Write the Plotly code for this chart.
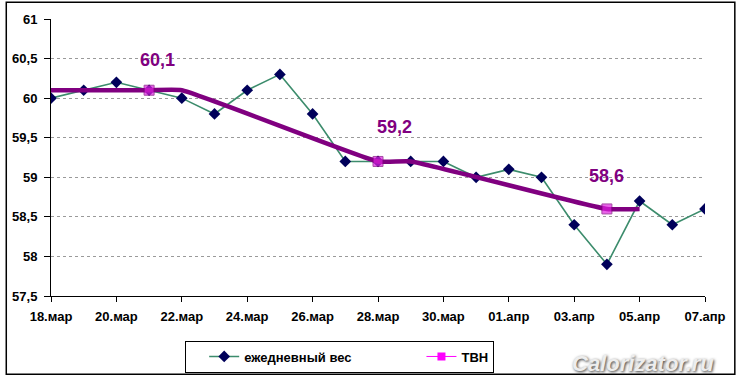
import plotly.graph_objects as go

dates = ["18.мар", "19.мар", "20.мар", "21.мар", "22.мар", "23.мар", "24.мар",
         "25.мар", "26.мар", "27.мар", "28.мар", "29.мар", "30.мар", "31.мар",
         "01.апр", "02.апр", "03.апр", "04.апр", "05.апр", "06.апр", "07.апр"]
daily_weight = [60.0, 60.1, 60.2, 60.1, 60.0, 59.8, 60.1, 60.3, 59.8, 59.2, 59.2,
                59.2, 59.2, 59.0, 59.1, 59.0, 58.4, 57.9, 58.7, 58.4, 58.6]

tvn_dates = ["18.мар", "21.мар", "22.мар", "28.мар", "29.мар", "04.апр", "05.апр"]
tvn_values = [60.1, 60.1, 60.1, 59.2, 59.2, 58.6, 58.6]
tvn_marked = [False, True, False, True, False, True, False]

label_dates = ["21.мар", "28.мар", "04.апр"]
label_values = [60.1, 59.2, 58.6]
label_texts = ["60,1", "59,2", "58,6"]

x_tick_labels = ["18.мар", "20.мар", "22.мар", "24.мар", "26.мар", "28.мар",
                 "30.мар", "01.апр", "03.апр", "05.апр", "07.апр"]
y_tick_vals = [57.5, 58, 58.5, 59, 59.5, 60, 60.5, 61]
y_tick_text = ["57,5", "58", "58,5", "59", "59,5", "60", "60,5", "61"]

FONT = "Arial, Liberation Sans, sans-serif"
NB = "\u00a0"

fig = go.Figure()

fig.add_trace(go.Scatter(
    x=dates, y=daily_weight, mode="lines+markers", name="ежедневный вес" + NB * 13,
    line=dict(color="#3C8C6C", width=1.6),
    marker=dict(symbol="diamond", color="#00005A", size=9),
))

fig.add_trace(go.Scatter(
    x=tvn_dates, y=tvn_values, mode="lines+markers", showlegend=False,
    line=dict(color="#800080", width=4.5, shape="spline", smoothing=0.4),
    marker=dict(symbol="square", color="#E020E0",
                size=[10 if m else 0 for m in tvn_marked]),
))

fig.add_trace(go.Scatter(
    x=[None], y=[None], mode="lines+markers", name="ТВН",
    line=dict(color="#FF00FF", width=1),
    marker=dict(symbol="square", color="#FF00FF", size=8),
))

shifts = [(8, 30), (16, 34), (0, 33)]
for d, v, t, (dx, dy) in zip(label_dates, label_values, label_texts, shifts):
    fig.add_annotation(x=d, y=v, text=t, showarrow=False, xshift=dx, yshift=dy,
                       font=dict(family=FONT, size=18, color="#800080", weight="bold"))

fig.add_annotation(xref="paper", yref="paper", x=(645 - 49) / 658, y=(298 - 366) / 280,
                   xanchor="center", yanchor="middle",
                   text="Calorizator.ru", showarrow=False,
                   font=dict(family=FONT, size=22, color="#ededed", weight="bold",
                             style="italic", shadow="1px 1px 3px #333"))

fig.add_shape(type="rect", xref="paper", yref="paper",
              x0=(4 - 49) / 658, x1=(737 - 49) / 658,
              y0=(298 - 377) / 280, y1=(298 - 1) / 280,
              line=dict(color="#000000", width=1.5), layer="below")

fig.update_layout(
    width=738, height=384,
    margin=dict(l=49, r=31, t=18, b=86),
    paper_bgcolor="white", plot_bgcolor="white",
    font=dict(family=FONT, color="black"),
    showlegend=True,
    legend=dict(orientation="h", x=(184 - 49) / 658, y=(298 - 343) / 280,
                xanchor="left", yanchor="top",
                bordercolor="black", borderwidth=1, bgcolor="white",
                font=dict(family=FONT, size=13, weight="bold"),
                indentation=18, itemwidth=30),
    xaxis=dict(type="category", categoryorder="array", categoryarray=dates,
               range=[0, len(dates) - 1],
               tickmode="array", tickvals=x_tick_labels, ticktext=x_tick_labels,
               ticks="outside", ticklen=5, tickcolor="black",
               ticklabelstandoff=3,
               showline=True, linecolor="black", linewidth=1,
               showgrid=False, zeroline=False,
               tickfont=dict(family=FONT, size=13, weight="bold")),
    yaxis=dict(range=[57.5, 61], tickmode="array", tickvals=y_tick_vals,
               ticktext=y_tick_text, ticks="outside", ticklen=6, tickcolor="black",
               ticklabelstandoff=4,
               showline=True, linecolor="black", linewidth=1,
               showgrid=True, gridcolor="#9a9a9a", griddash="3px,3px", gridwidth=1,
               zeroline=False,
               tickfont=dict(family=FONT, size=13, weight="bold")),
)

fig.write_html("out.html", config={"displayModeBar": False},
               post_script="document.body.style.margin='0';")
